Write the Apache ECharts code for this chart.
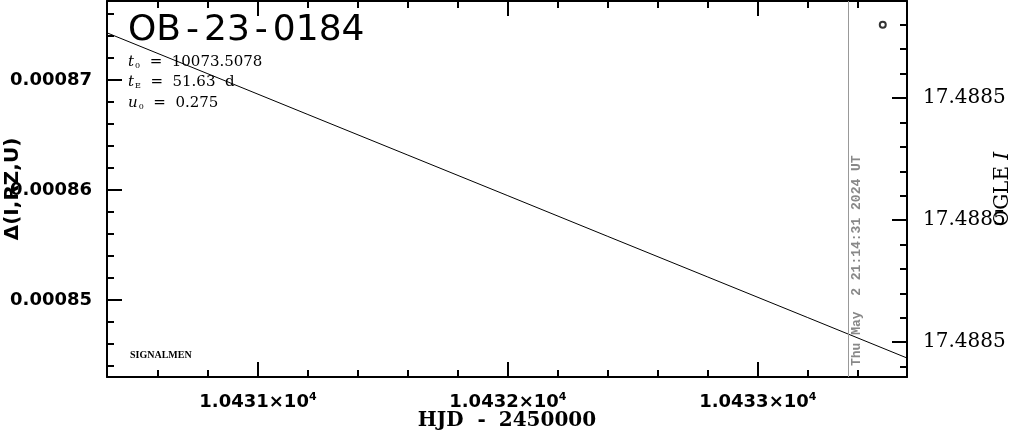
<!DOCTYPE html>
<html>
<head>
<meta charset="utf-8">
<script src="https://cdn.jsdelivr.net/npm/echarts@6/dist/echarts.min.js"></script>
<style>
html,body{margin:0;padding:0;background:#fff;}
#chart{width:1011px;height:434px;}
</style>
</head>
<body>
<div id="chart"></div>
<script>
// ---- data ----
const hjd   = [10430.4, 10430.8, 10431.2, 10431.6, 10432.0, 10432.4, 10432.8, 10433.2, 10433.6];
const delta = [0.00087425, 0.00087056, 0.00086686, 0.00086317, 0.00085948, 0.00085578, 0.00085209, 0.00084840, 0.00084470];
const ogleHJD = [10433.50];
const ogleMag = [17.488468];
const nowHJD = 10433.358;
const nowLabel = 'Thu May  2 21:14:31 2024 UT';
const titleParts = ['OB', '23', '0184'];
const paramNames = ['t', 't', 'u'];
const paramSubs = ['0', 'E', '0'];
const paramValues = ['10073.5078', '51.63  d', '0.275'];

// ---- axes ----
const xRange = [10430.396, 10433.597];
const xMajor = [10431, 10432, 10433];
const xMinor = [10430.6, 10430.8, 10431.2, 10431.4, 10431.6, 10431.8, 10432.2, 10432.4, 10432.6, 10432.8, 10433.2, 10433.4];
const yRange = [0.000843, 0.00087718];
const yMajor = [0.00085, 0.00086, 0.00087];
const yMinor = [0.000844, 0.000846, 0.000848, 0.000852, 0.000854, 0.000856, 0.000858, 0.000862, 0.000864, 0.000866, 0.000868, 0.000872, 0.000874, 0.000876];
const magRange = [17.4884641, 17.4885257];
const magMajor = [17.48848, 17.48850, 17.48852];
const magMinor = [17.488468, 17.488472, 17.488476, 17.488484, 17.488488, 17.488492, 17.488496, 17.488504, 17.488508, 17.488512, 17.488516, 17.488524];

const black = '#000';
const axisLine = {show: true, lineStyle: {color: black, width: 2}};
const noLine = {show: false};

function xAx(pos, ticks, len, withLine) {
  return {
    type: 'value', position: pos, min: xRange[0], max: xRange[1],
    axisLine: withLine ? axisLine : noLine,
    axisTick: {show: true, inside: true, length: len, customValues: ticks, lineStyle: {color: black, width: 2}},
    axisLabel: {show: false},
    splitLine: {show: false}
  };
}
function yAx(pos, range, ticks, len, inverse, withLine) {
  return {
    type: 'value', position: pos, min: range[0], max: range[1], inverse: !!inverse,
    axisLine: withLine ? axisLine : noLine,
    axisTick: {show: true, inside: true, length: len, customValues: ticks, lineStyle: {color: black, width: 2}},
    axisLabel: {show: false},
    splitLine: {show: false}
  };
}

const xBottom = xAx('bottom', xMajor, 15, true);
xBottom.axisLabel = {
  show: true, customValues: xMajor, margin: 15,
  fontFamily: 'DejaVu Sans', fontWeight: 'bold', fontSize: 18, color: black, lineHeight: 20,
  formatter: v => (v / 1e4).toFixed(4) + '×10{sup|4}',
  rich: {sup: {fontFamily: 'DejaVu Sans', fontWeight: 'bold', fontSize: 11, lineHeight: 11, verticalAlign: 'top', color: black}}
};
xBottom.name = '{a|HJD }{d|-}{a| 2450000}';
xBottom.nameLocation = 'middle';
xBottom.nameGap = 34;
xBottom.nameMoveOverlap = false;
xBottom.nameTextStyle = {fontFamily: 'DejaVu Serif', fontWeight: 'bold', fontSize: 20, color: black,
  rich: {
    a: {fontFamily: 'DejaVu Serif', fontWeight: 'bold', fontSize: 20, color: black},
    d: {fontFamily: 'DejaVu Serif', fontWeight: 'bold', fontSize: 20, color: black, padding: [0, 6, 0, 7]}
  }};

const yLeft = yAx('left', yRange, yMajor, 15, false, true);
yLeft.axisLabel = {show: true, customValues: yMajor, margin: 15, fontFamily: 'DejaVu Sans', fontWeight: 'bold', fontSize: 18, color: black,
  formatter: v => v.toFixed(5)};
yLeft.name = 'Δ(I,RZ,U)';
yLeft.nameLocation = 'middle';
yLeft.nameRotate = 90;
yLeft.nameGap = 84;
yLeft.nameMoveOverlap = false;
yLeft.nameTextStyle = {fontFamily: 'DejaVu Sans', fontWeight: 'bold', fontSize: 20, color: black};

const yRight = yAx('right', magRange, magMajor, 15, true, true);
yRight.axisLabel = {show: true, customValues: magMajor, margin: 16, fontFamily: 'DejaVu Serif', fontSize: 20, color: black,
  formatter: v => v.toFixed(4)};
yRight.name = 'OGLE {i|I}';
yRight.nameLocation = 'middle';
yRight.nameRotate = 90;
yRight.nameGap = 86;
yRight.nameMoveOverlap = false;
yRight.nameTextStyle = {fontFamily: 'DejaVu Serif', fontSize: 20, color: black,
  rich: {i: {fontFamily: 'DejaVu Serif', fontStyle: 'italic', fontSize: 20, color: black}}};

const chart = echarts.init(document.getElementById('chart'), null, {renderer: 'canvas'});
const option = {
  backgroundColor: '#fff',
  animation: false,
  grid: {left: 107, right: 104, top: 1, bottom: 57, containLabel: false, outerBoundsMode: 'none'},
  xAxis: [
    xBottom,
    xAx('bottom', xMinor, 7, false),
    xAx('top', xMajor, 15, true),
    xAx('top', xMinor, 7, false)
  ],
  yAxis: [
    yLeft,
    yAx('left', yRange, yMinor, 7, false, false),
    yRight,
    yAx('right', magRange, magMinor, 7, true, false)
  ],
  series: [
    {
      type: 'line', xAxisIndex: 0, yAxisIndex: 0,
      data: hjd.map((x, i) => [x, delta[i]]),
      showSymbol: false, symbol: 'none',
      lineStyle: {color: black, width: 1},
      clip: true,
      markLine: {
        silent: true, symbol: 'none',
        lineStyle: {color: '#999', width: 1, type: 'solid'},
        label: {show: false},
        data: [{xAxis: nowHJD}]
      }
    },
    {
      type: 'scatter', xAxisIndex: 0, yAxisIndex: 2,
      data: ogleHJD.map((x, i) => [x, ogleMag[i]]),
      symbol: 'circle', symbolSize: 6,
      itemStyle: {color: '#fff', borderColor: black, borderWidth: 2}
    }
  ]
};
chart.setOption(option);

const lineX = chart.convertToPixel({xAxisIndex: 0}, nowHJD);
const paramY = [62, 82, 103];
const graphic = [
  {type: 'text', x: 128, y: 31, style: {
    text: '{a|' + titleParts[0] + '}{d|-}{a|' + titleParts[1] + '}{d|-}{a|' + titleParts[2] + '}',
    fill: black, align: 'left', verticalAlign: 'middle',
    rich: {
      a: {fontFamily: 'DejaVu Sans', fontSize: 36, fill: black},
      d: {fontFamily: 'DejaVu Sans', fontSize: 36, fill: black, padding: [0, 5, 0, 5]}
    }}},
  {type: 'text', x: 130, y: 355, style: {text: 'SIGNALMEN', font: 'bold 10px "Liberation Serif"', fill: black, align: 'left', verticalAlign: 'middle'}},
  {type: 'text', x: lineX + 9, y: 366, rotation: Math.PI / 2,
   style: {text: nowLabel, font: 'bold 13px "Liberation Mono"', fill: '#888', align: 'left', verticalAlign: 'middle'}}
];
paramNames.forEach((n, i) => {
  graphic.push({type: 'text', x: 128, y: paramY[i], style: {
    text: '{t|' + n + '}{sub|' + paramSubs[i] + '}{v|  =  ' + paramValues[i] + '}',
    fill: black, align: 'left', verticalAlign: 'middle',
    rich: {
      t: {fontFamily: 'DejaVu Serif', fontStyle: 'italic', fontSize: 15, lineHeight: 18, fill: black},
      sub: {fontFamily: 'DejaVu Serif', fontSize: 8, lineHeight: 8, verticalAlign: 'bottom', fill: black, padding: [0, 0, 1, 1]},
      v: {fontFamily: 'DejaVu Serif', fontSize: 15, lineHeight: 18, fill: black}
    }
  }});
});
chart.setOption({graphic: graphic});
</script>
</body>
</html>
